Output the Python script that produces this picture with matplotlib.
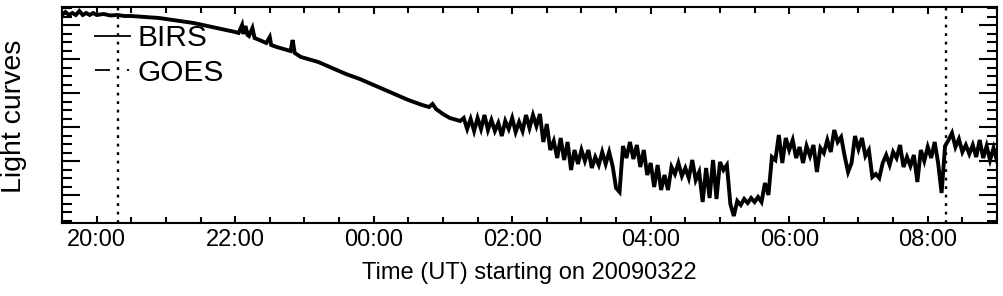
import matplotlib
matplotlib.use("Agg")
import matplotlib.pyplot as plt
from matplotlib.ticker import MultipleLocator, FixedLocator
from matplotlib.lines import Line2D

plt.rcParams['font.family'] = ['Liberation Sans', 'DejaVu Sans']

# Time in hours since 00:00 UT on 2009-03-22 (values > 24 are on the next day)
birs_time_h = [
    19.50, 19.55, 19.60, 19.65, 19.70, 19.75, 19.80, 19.85, 19.90, 19.95,
    20.00, 20.10, 20.20, 20.30, 20.40, 20.50, 20.60, 20.70, 20.80, 20.90,
    21.00, 21.10, 21.20, 21.30, 21.40, 21.50, 21.60, 21.70, 21.80, 21.90,
    22.00, 22.05, 22.10, 22.12, 22.15, 22.18, 22.20, 22.25, 22.28, 22.35,
    22.45, 22.50, 22.52, 22.60, 22.70, 22.80, 22.83, 22.86, 22.95, 23.10,
    23.20, 23.30, 23.40, 23.50, 23.60, 23.70, 23.80, 23.90, 24.00, 24.10,
    24.20, 24.30, 24.40, 24.50, 24.60, 24.70, 24.80, 24.85, 24.90, 25.00,
    25.10, 25.20, 25.25,
    25.30, 25.35, 25.40, 25.45, 25.50, 25.55, 25.60, 25.65, 25.70, 25.75,
    25.80, 25.85, 25.90, 25.95, 26.00, 26.05, 26.10, 26.15, 26.20, 26.25,
    26.30, 26.35, 26.40, 26.45, 26.50, 26.55, 26.60, 26.65, 26.70, 26.75,
    26.80, 26.85, 26.90, 26.95, 27.00, 27.05, 27.10, 27.15, 27.20, 27.25,
    27.30, 27.35, 27.40, 27.45, 27.50, 27.55, 27.60, 27.65, 27.70, 27.75,
    27.80, 27.85, 27.90, 27.95, 28.00, 28.05, 28.10, 28.15, 28.20, 28.25,
    28.30, 28.35, 28.40, 28.45, 28.50, 28.55, 28.60, 28.65, 28.70, 28.75,
    28.80, 28.85, 28.90, 28.95, 29.00, 29.05, 29.10, 29.15, 29.20, 29.25,
    29.30, 29.35, 29.40, 29.45, 29.50, 29.55, 29.60, 29.65, 29.70, 29.75,
    29.80, 29.85, 29.90, 29.95, 30.00, 30.05, 30.10, 30.15, 30.20, 30.25,
    30.30, 30.35, 30.40, 30.45, 30.50, 30.55, 30.60, 30.65, 30.70, 30.75,
    30.80, 30.85, 30.90, 30.95, 31.00, 31.05, 31.10, 31.15, 31.20, 31.25,
    31.30, 31.35, 31.40, 31.45, 31.50, 31.55, 31.60, 31.65, 31.70, 31.75,
    31.80, 31.85, 31.90, 31.95, 32.00, 32.05, 32.10, 32.15, 32.20, 32.25,
    32.30, 32.35, 32.40, 32.45, 32.50, 32.55, 32.60, 32.65, 32.70, 32.75,
    32.80, 32.85, 32.90, 32.95, 33.00,
]

# BIRS light curve (arbitrary units)
birs_flux = [
    208, 211, 208, 210, 208, 212, 208, 210, 208, 210,
    208, 209, 207.5, 208, 207, 207, 206.5, 206, 205.5, 205,
    204, 203, 202, 201, 200, 198.5, 197, 195.5, 194, 192.5,
    191, 190, 198, 189, 197, 188, 187, 195, 185, 183,
    180, 186, 178, 176, 174, 172, 183, 170, 166, 163,
    161, 158, 155, 152, 149, 146.5, 144, 141, 138, 135,
    132, 129, 126, 123, 120.5, 118, 116, 119, 114, 109,
    105, 103, 102,
    105, 94, 104, 92, 105, 94, 108, 93, 103, 92,
    100, 87, 102, 94, 105, 91, 101, 92, 108, 95,
    108, 97, 109, 81, 99, 73, 82, 65, 85, 63,
    81, 53, 73, 59, 73, 62, 73, 55, 66, 58,
    71, 59, 71, 57, 35, 31, 77, 65, 81, 64,
    78, 56, 73, 48, 60, 36, 58, 33, 48, 33,
    56, 49, 60, 47, 55, 45, 63, 43, 51, 21,
    55, 25, 63, 24, 61, 53, 58, 19, 7, 22,
    18, 24, 20, 25, 21, 26, 21, 40, 28, 66,
    63, 88, 60, 85, 73, 83, 65, 76, 60, 77,
    67, 78, 51, 75, 70, 83, 71, 93, 81, 86,
    67, 51, 60, 87, 74, 85, 67, 73, 46, 49,
    45, 60, 68, 58, 71, 65, 78, 56, 66, 57,
    68, 41, 73, 62, 76, 65, 81, 60, 30, 77,
    83, 90, 76, 84, 71, 78, 69, 78, 66, 83,
    65, 77, 63, 75, 62,
]

xtick_hours = [20, 22, 24, 26, 28, 30, 32]
xtick_labels = ["20:00", "22:00", "00:00", "02:00", "04:00", "06:00", "08:00"]
event_lines_h = [20.31, 32.27]

fig = plt.figure(figsize=(10.04, 2.96), dpi=100)
ax = fig.add_axes([62 / 1004, 1 - 223 / 296, 935 / 1004, 216 / 296])

ax.plot(birs_time_h, birs_flux, color="black", lw=2.8, solid_joinstyle="miter")
for h in event_lines_h:
    ax.axvline(h, color="black", lw=1.7, linestyle=(0, (1.2, 2.4)))

ax.set_xlim(19.5, 33.0)
ax.set_ylim(0, 216)

ax.xaxis.set_major_locator(FixedLocator(xtick_hours))
ax.set_xticklabels(xtick_labels)
ax.xaxis.set_minor_locator(MultipleLocator(0.5))
ax.yaxis.set_major_locator(MultipleLocator(34, offset=28))
ax.yaxis.set_minor_locator(MultipleLocator(8.5, offset=2.5))
ax.set_yticklabels([])

ax.tick_params(axis="x", which="major", direction="in", length=5, width=1.5,
               top=True, bottom=True, labelsize=17, pad=4)
ax.tick_params(axis="x", which="minor", direction="in", length=4, width=1.5,
               top=True, bottom=True)
ax.tick_params(axis="y", which="major", direction="in", length=13, width=1.5,
               left=True, right=True, labelleft=False)
ax.tick_params(axis="y", which="minor", direction="in", length=7, width=1.5,
               left=True, right=True)
for s in ax.spines.values():
    s.set_linewidth(1.5)

fig.text(14 / 1004, 1 - 116 / 296, "Light curves", rotation=90,
         ha="center", va="center", fontsize=20.5)
fig.text(529.5 / 1004, 1 - 273 / 296, "Time (UT) starting on 20090322",
         ha="center", va="center", fontsize=17)

handles = [
    Line2D([], [], color="black", lw=1.3),
    Line2D([], [], color="black", lw=1.3, linestyle=(0, (8.3, 9.4, 1.2, 20))),
]
ax.legend(handles, ["BIRS", "GOES"], loc="upper left",
          bbox_to_anchor=(33 / 935, 1 - 17 / 216), frameon=False,
          fontsize=21.5, handlelength=1.17, handletextpad=0.27,
          labelspacing=0.22, borderaxespad=0, borderpad=0)

fig.savefig("out.png", dpi=100)
